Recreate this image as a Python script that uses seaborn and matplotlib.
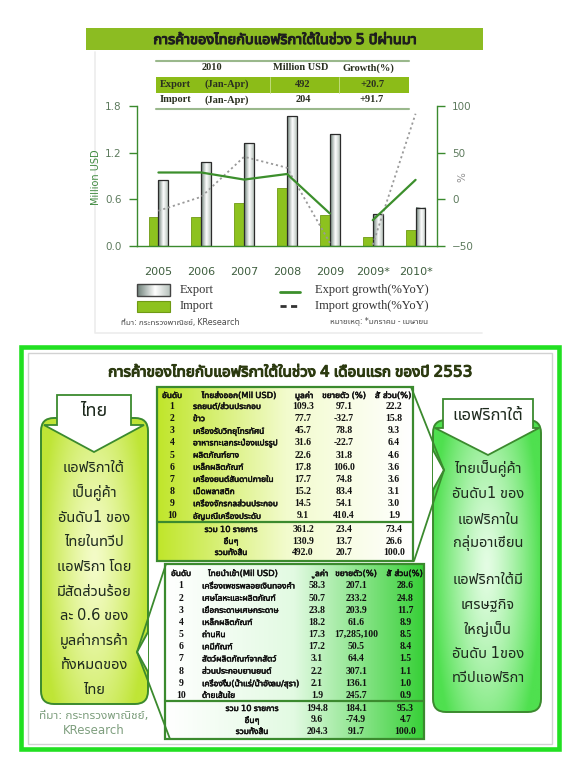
import numpy as np
import pandas as pd
import matplotlib
matplotlib.use("Agg")
import matplotlib.pyplot as plt
import seaborn as sns
from matplotlib import font_manager
from matplotlib.ft2font import FT2Font
from matplotlib.patches import Rectangle, FancyBboxPatch, Polygon
from matplotlib.colors import LinearSegmentedColormap
from matplotlib.ticker import FormatStrFormatter
import matplotlib.patheffects as pe

# ---------------- data ----------------
periods = ["2005", "2006", "2007", "2008", "2009", "2009*", "2010*"]
export_bn = [0.842, 1.078, 1.319, 1.675, 1.435, 0.408, 0.492]
import_bn = [0.365, 0.374, 0.546, 0.739, 0.395, 0.106, 0.204]
export_growth = [28.6, 28.6, 21.0, 27.0, -15.4, -22.6, 20.7]
import_growth = [-12.5, 2.5, 45.5, 33.7, -47.0, -49.0, 91.7]
growth_segment = ["annual", "annual", "annual", "annual", "annual", "janapr", "janapr"]
left_ticks = [0.0, 0.6, 1.2, 1.8]
right_ticks = [-50, 0, 50, 100]

summary_header = ["2010", "Million USD", "Growth(%)"]
summary_flow = ["Export", "Import"]
summary_period = ["(Jan-Apr)", "(Jan-Apr)"]
summary_value = ["492", "204"]
summary_growth = ["+20.7", "+91.7"]

top_title = "การค้าของไทยกับแอฟริกาใต้ในช่วง 5 ปีผ่านมา"
bottom_title = "การค้าของไทยกับแอฟริกาใต้ในช่วง 4 เดือนแรก ของปี 2553"
source_top = "ที่มา: กระทรวงพาณิชย์, KResearch"
note_top = "หมายเหตุ: *มกราคม - เมษายน"

table_header_exp = ["อันดับ", "ไทยส่งออก(Mil USD)", "มูลค่า", "ขยายตัว (%)", "สัดส่วน(%)"]
exp_items = ["รถยนต์/ส่วนประกอบ", "ข้าว", "เครื่องรับวิทยุโทรทัศน์", "อาหารทะเลกระป๋องแปรรูป",
             "ผลิตภัณฑ์ยาง", "เหล็กผลิตภัณฑ์", "เครื่องยนต์สันดาปภายใน", "เม็ดพลาสติก",
             "เครื่องจักรกลส่วนประกอบ", "อัญมณีเครื่องประดับ"]
exp_value = ["109.3", "77.7", "45.7", "31.6", "22.6", "17.8", "17.7", "15.2", "14.5", "9.1"]
exp_growth = ["97.1", "-32.7", "78.8", "-22.7", "31.8", "106.0", "74.8", "83.4", "54.1", "410.4"]
exp_share = ["22.2", "15.8", "9.3", "6.4", "4.6", "3.6", "3.6", "3.1", "3.0", "1.9"]
exp_tot_labels = ["รวม 10 รายการ", "อื่นๆ", "รวมทั้งสิ้น"]
exp_tot_value = ["361.2", "130.9", "492.0"]
exp_tot_growth = ["23.4", "13.7", "20.7"]
exp_tot_share = ["73.4", "26.6", "100.0"]

table_header_imp = ["อันดับ", "ไทยนำเข้า(Mil USD)", "มูลค่า", "ขยายตัว(%)", "สัดส่วน(%)"]
imp_items = ["เครื่องเพชรพลอยเงินทองคำ", "เศษโลหะและผลิตภัณฑ์", "เยื่อกระดาษเศษกระดาษ",
             "เหล็กผลิตภัณฑ์", "ถ่านหิน", "เคมีภัณฑ์", "สัตว์ผลิตภัณฑ์จากสัตว์",
             "ส่วนประกอบยานยนต์", "เครื่องดื่ม(น้ำแร่/น้ำอัดลม/สุรา)", "ด้ายเส้นใย"]
imp_value = ["58.3", "50.7", "23.8", "18.2", "17.3", "17.2", "3.1", "2.2", "2.1", "1.9"]
imp_growth = ["207.1", "233.2", "203.9", "61.6", "17,285,100", "50.5", "64.4", "307.1", "136.1", "245.7"]
imp_share = ["28.6", "24.8", "11.7", "8.9", "8.5", "8.4", "1.5", "1.1", "1.0", "0.9"]
imp_tot_labels = ["รวม 10 รายการ", "อื่นๆ", "รวมทั้งสิ้น"]
imp_tot_value = ["194.8", "9.6", "204.3"]
imp_tot_growth = ["184.1", "-74.9", "91.7"]
imp_tot_share = ["95.3", "4.7", "100.0"]

left_head = "ไทย"
left_lines = ["แอฟริกาใต้", "เป็นคู่ค้า", "อันดับ1 ของ", "ไทยในทวีป", "แอฟริกา โดย",
              "มีสัดส่วนร้อย", "ละ 0.6 ของ", "มูลค่าการค้า", "ทั้งหมดของ", "ไทย"]
left_source = ["ที่มา: กระทรวงพาณิชย์,", "KResearch"]
right_head = "แอฟริกาใต้"
right_lines = ["ไทยเป็นคู่ค้า", "อันดับ1 ของ", "แอฟริกาใน", "กลุ่มอาเซียน",
               "แอฟริกาใต้มี", "เศรษฐกิจ", "ใหญ่เป็น", "อันดับ 1ของ", "ทวีปแอฟริกา"]

# ---------------- fonts ----------------
sns.set_style("white")


def find_thai_family():
    found = []
    for fe in font_manager.fontManager.ttflist:
        try:
            cm = FT2Font(fe.fname).get_charmap()
        except Exception:
            continue
        if 0x0E01 in cm and 0x0E49 in cm and 0x0E32 in cm:
            found.append(fe.name)
    if not found:
        return None
    def score(n):
        s = 0
        if "Thai" in n: s -= 4
        if "Sans" in n: s -= 2
        if "Looped" in n or "Serif" in n: s += 3
        return s
    found = sorted(set(found), key=score)
    return found[0]


thai = find_thai_family()
fam = ([thai] if thai else []) + ["DejaVu Sans"]
plt.rcParams["font.family"] = fam
serif_fam = ["Liberation Serif", "DejaVu Serif"]


def bold(color, w=0.6):
    return [pe.withStroke(linewidth=w, foreground=color)]


# ---------------- figure ----------------
W, H = 580, 767
fig = plt.figure(figsize=(W / 100, H / 100), dpi=100)
fig.patch.set_facecolor("white")
bg = fig.add_axes([0, 0, 1, 1], zorder=0)
bg.set_xlim(0, W)
bg.set_ylim(H, 0)
bg.axis("off")

GREEN = "#3b8a2e"

# faint panel of top chart
bg.plot([95, 95, 482], [52, 333, 333], color="#ececec", lw=1.2)

# banner
bg.add_patch(Rectangle((86, 28), 397, 22, facecolor="#8cbc22", edgecolor="none"))
bg.text(285, 39.5, top_title, ha="center", va="center", fontsize=10.5,
        color="#1e1e1e", path_effects=bold("#1e1e1e", 0.8))

# summary table
bg.plot([155.5, 409], [61, 61], color="#9ab88c", lw=1.5)
bg.plot([155.5, 409], [109, 109], color="#9ab88c", lw=1.5)
bg.add_patch(Rectangle((155.5, 77), 253.5, 15.5, facecolor="#8cbc18", edgecolor="none"))
for xs in (270, 339):
    bg.plot([xs, xs], [77, 92.5], color="#c8e08a", lw=0.6)
hdr_x = [212, 301, 368.5]
for x, s in zip(hdr_x, summary_header):
    bg.text(x, 68, s, ha="center", va="center", fontsize=7.5, fontweight="bold",
            family=serif_fam, color="#2a3020")
for i in range(2):
    y = 84.5 + i * 15.5
    bg.text(160, y, summary_flow[i], ha="left", va="center", fontsize=7.5,
            fontweight="bold", family=serif_fam, color="#2a3020")
    bg.text(227, y, summary_period[i], ha="center", va="center", fontsize=7.5,
            fontweight="bold", family=serif_fam, color="#2a3020")
    bg.text(303, y, summary_value[i], ha="center", va="center", fontsize=7.5,
            fontweight="bold", family=serif_fam, color="#2a3020")
    bg.text(372, y, summary_growth[i], ha="center", va="center", fontsize=7.5,
            fontweight="bold", family=serif_fam, color="#2a3020")

# ---------------- chart ----------------
x0, x1, ytop, ybot = 137, 437, 106, 245.7
ax = fig.add_axes([x0 / W, 1 - ybot / H, (x1 - x0) / W, (ybot - ytop) / H], zorder=2)
ax.patch.set_alpha(0)

df = pd.DataFrame({
    "period": periods * 2,
    "flow": ["Import"] * len(periods) + ["Export"] * len(periods),
    "value": import_bn + export_bn,
})
IMP_C = "#8dc21f"
sns.barplot(data=df, x="period", y="value", hue="flow", hue_order=["Import", "Export"],
            palette={"Import": IMP_C, "Export": "#eef2ee"}, width=0.46, ax=ax,
            legend=False, saturation=1, order=periods)

exp_cmap = LinearSegmentedColormap.from_list(
    "exp", [(0, "#6d8078"), (0.55, "#ffffff"), (1, "#b9c4be")])
grad = np.linspace(0, 1, 64).reshape(1, -1)
for bar in ax.containers[0]:
    bar.set_edgecolor("#6f9a14")
    bar.set_linewidth(0.6)
for bar in ax.containers[1]:
    bx, bw, bh = bar.get_x(), bar.get_width(), bar.get_height()
    ax.imshow(grad, extent=[bx, bx + bw, 0, bh], aspect="auto", cmap=exp_cmap,
              zorder=1.5, interpolation="bilinear")
    bar.set_facecolor("none")
    bar.set_edgecolor("#2b2b2b")
    bar.set_linewidth(0.9)
    bar.set_zorder(2)

ax.set_xlim(-0.5, len(periods) - 0.5)
ax.set_ylim(0, 1.8)
ax.set_yticks(left_ticks)
ax.yaxis.set_major_formatter(FormatStrFormatter("%.1f"))
ax.set_xlabel("")
ax.set_ylabel("")
ax.set_xticks(range(len(periods)))
ax.set_xticklabels(periods)
ax.set_xticks(np.arange(-0.5, len(periods), 1.0), minor=True)
ax.tick_params(axis="x", which="major", length=0, pad=15, labelsize=8, labelcolor="#3f5f3f")
ax.tick_params(axis="x", which="minor", length=5, width=1, color=GREEN, direction="out")
ax.tick_params(axis="y", length=6, width=1, color=GREEN, direction="out", labelsize=7.5,
               labelcolor="#5d7a5d", pad=5)
for s in ("top", "right"):
    ax.spines[s].set_visible(False)
for s in ("left", "bottom"):
    ax.spines[s].set_color(GREEN)
    ax.spines[s].set_linewidth(1)

ax2 = ax.twinx()
ax2.patch.set_alpha(0)
gdf = pd.DataFrame({
    "pos": list(range(len(periods))),
    "exp": export_growth,
    "imp": import_growth,
    "seg": growth_segment,
})
sns.lineplot(data=gdf, x="pos", y="imp", units="seg", estimator=None, ax=ax2,
             color="#9a9a9a", lw=1.3, linestyle=(0, (1.2, 1.6)), legend=False)
sns.lineplot(data=gdf, x="pos", y="exp", units="seg", estimator=None, ax=ax2,
             color="#3c8f2c", lw=1.6, legend=False)
ax2.set_ylim(-50, 100)
ax2.set_yticks(right_ticks)
ax2.set_xlim(-0.5, len(periods) - 0.5)
ax2.set_ylabel("")
ax2.set_xlabel("")
ax2.tick_params(axis="y", length=6, width=1, color=GREEN, direction="out", labelsize=7.5,
                labelcolor="#5d7a5d", pad=5)
for s in ("top", "left", "bottom"):
    ax2.spines[s].set_visible(False)
ax2.spines["right"].set_color(GREEN)
ax2.spines["right"].set_linewidth(1)

bg.text(96, 177, "Million USD", rotation=90, ha="center", va="center",
        fontsize=7, color="#3f8a3f", family=["DejaVu Sans"])
bg.text(462, 177, "%", rotation=90, ha="center", va="center", fontsize=7.5,
        color="#909090", family=["DejaVu Sans"])

# legend
bg.imshow(grad, extent=[137, 170, 296, 284], aspect="auto", cmap=exp_cmap, zorder=1)
bg.add_patch(Rectangle((137, 284), 33, 12, facecolor="none", edgecolor="#444444", lw=1, zorder=2))
bg.add_patch(Rectangle((137, 301), 33, 11, facecolor=IMP_C, edgecolor="#6f9a14", lw=0.8, zorder=2))
bg.text(180, 290, "Export", ha="left", va="center", fontsize=9, family=serif_fam, color="#333333")
bg.text(180, 306, "Import", ha="left", va="center", fontsize=9, family=serif_fam, color="#333333")
bg.plot([280, 300], [292, 292], color="#3c8f2c", lw=2)
bg.plot([280, 300], [306, 306], color="#333333", lw=2, linestyle=(0, (2.2, 1.6)))
bg.text(315, 290, "Export growth(%YoY)", ha="left", va="center", fontsize=9,
        family=serif_fam, color="#333333")
bg.text(315, 306, "Import growth(%YoY)", ha="left", va="center", fontsize=9,
        family=serif_fam, color="#333333")
bg.text(121, 322, source_top, ha="left", va="center", fontsize=5.8, color="#4a4a4a")
bg.text(330, 322, note_top, ha="left", va="center", fontsize=5.8, color="#4a4a4a")

# ---------------- bottom infographic ----------------
bg.add_patch(Rectangle((21, 347), 538, 402, facecolor="none", edgecolor="#22e022", lw=3.3, zorder=1))
bg.add_patch(Rectangle((28, 352.5), 524, 391, facecolor="none", edgecolor="#d2d2d2", lw=1, zorder=1))
bg.text(290, 372, bottom_title, ha="center", va="center", fontsize=11,
        color="#2c3a10", path_effects=bold("#2c3a10", 0.8))


def grad_img(c_left, c_mid, c_right, mid=0.5):
    cm = LinearSegmentedColormap.from_list("g", [(0, c_left), (mid, c_mid), (1, c_right)])
    return cm(np.linspace(0, 1, 128).reshape(1, -1))


def radial_img(c_center, c_edge, ny=120, nx=60):
    u = np.linspace(-1, 1, nx)[None, :]
    v = np.linspace(-1, 1, ny)[:, None]
    t = np.clip(np.sqrt(0.95 * u ** 2 + 0.45 * v ** 2), 0, 1) ** 1.3
    cc = np.array(matplotlib.colors.to_rgb(c_center))
    ce = np.array(matplotlib.colors.to_rgb(c_edge))
    return cc[None, None, :] * (1 - t[..., None]) + ce[None, None, :] * t[..., None]


def callout(xa, xb, ya, yb, c_center, c_edge, notch):
    box = FancyBboxPatch((xa, ya), xb - xa, yb - ya, boxstyle="round,pad=0,rounding_size=13",
                         facecolor="none", edgecolor=GREEN, lw=1.4, zorder=3)
    bg.add_patch(box)
    im = bg.imshow(radial_img(c_center, c_edge), extent=[xa, xb, yb, ya], aspect="auto",
                   zorder=2, interpolation="bilinear")
    im.set_clip_path(box)
    nx_edge, ntip, ny = notch
    bg.add_patch(Polygon([(nx_edge, ny - 20), (ntip, ny), (nx_edge, ny + 20)], closed=True,
                         facecolor="white", edgecolor="none", zorder=3.5))
    bg.plot([nx_edge, ntip, nx_edge], [ny - 20, ny, ny + 20], color=GREEN, lw=1.4, zorder=3.6)


def header_arrow(xa, xb, ya, yb, wl, wr, tipx, tipy, text, fs):
    pts = [(xa, ya), (xb, ya), (xb, yb), (wr, yb), (tipx, tipy), (wl, yb), (xa, yb)]
    bg.add_patch(Polygon(pts, closed=True, facecolor="white", edgecolor=GREEN, lw=1.3, zorder=4))
    bg.text((xa + xb) / 2, (ya + yb) / 2 + 1, text, ha="center", va="center", fontsize=fs,
            color="#1e2a1e", zorder=5)


# left callout
callout(41, 148, 418, 704, "#f4fcc8", "#bfe536", (148, 137, 652))
header_arrow(57, 131, 395, 425, 44, 144, 94, 452, left_head, 13)
for i, s in enumerate(left_lines):
    bg.text(94, 468 + i * 24.6, s, ha="center", va="center", fontsize=10.5, color="#1e2a1e", zorder=5)
bg.text(94, 715, left_source[0], ha="center", va="center", fontsize=8.5, color="#7f9f7f")
bg.text(94, 731, left_source[1], ha="center", va="center", fontsize=8.5, color="#7f9f7f")

# right callout
callout(433, 541, 420, 712, "#e4fde4", "#4fe04f", (433, 444, 470))
header_arrow(443, 533, 399, 428, 435, 539, 488, 455, right_head, 12)
right_y = [469, 494, 519, 543, 580, 605, 629, 654, 678]
for y, s in zip(right_y, right_lines):
    bg.text(488, y, s, ha="center", va="center", fontsize=10.5, color="#1e2a1e", zorder=5)

TXT = "#111111"
TFS = 6.0


def ttext(x, y, s, ha="center", num=False):
    if num:
        bg.text(x, y, s, ha=ha, va="center", fontsize=7.0, color=TXT,
                fontweight="bold", family=serif_fam, zorder=5)
    else:
        bg.text(x, y, s, ha=ha, va="center", fontsize=TFS, color=TXT,
                zorder=5, path_effects=bold(TXT, 0.35))


def draw_table(xa, xb, ya, yb, colors, header, cols_x, name_x, rows, tots, sep_y,
               header_y, row0_y, dy, tot_x, tot_y):
    bg.imshow(grad_img(*colors), extent=[xa, xb, yb, ya], aspect="auto", zorder=2,
              interpolation="bilinear")
    bg.add_patch(Rectangle((xa, ya), xb - xa, yb - ya, facecolor="none", edgecolor=GREEN,
                           lw=1.6, zorder=3))
    bg.plot([xa, xb], [sep_y, sep_y], color=GREEN, lw=1.6, zorder=3)
    hx = [cols_x[0], name_x[1], cols_x[1] + 1, cols_x[2], cols_x[3]]
    for x, s in zip(hx, header):
        ttext(x, header_y, s)
    items, vals, grs, shs = rows
    for i in range(len(items)):
        y = row0_y + i * dy
        ttext(cols_x[0], y, str(i + 1), num=True)
        ttext(name_x[0], y, items[i], ha="left")
        for x, s in zip(cols_x[1:], (vals[i], grs[i], shs[i])):
            ttext(x, y, s, num=True)
    tl, tv, tg, ts = tots
    for j in range(3):
        y = tot_y[j]
        ttext(tot_x, y, tl[j])
        for x, s in zip(cols_x[1:], (tv[j], tg[j], ts[j])):
            ttext(x, y, s, num=True)


draw_table(157, 413, 387, 561, ("#c0e62a", "#f2fbcc", "#ffffff"),
           table_header_exp, [172, 303, 344, 394], (193, 239),
           (exp_items, exp_value, exp_growth, exp_share),
           (exp_tot_labels, exp_tot_value, exp_tot_growth, exp_tot_share),
           521.5, 395.5, 406.5, 12.15, 231, [529.5, 541, 552.5])

draw_table(165, 424, 564, 739, ("#ffffff", "#e2fae2", "#38d038"),
           table_header_imp, [181, 317, 356, 405.5], (202, 243),
           (imp_items, imp_value, imp_growth, imp_share),
           (imp_tot_labels, imp_tot_value, imp_tot_growth, imp_tot_share),
           701, 573.5, 586, 12.15, 252, [708.5, 720, 731.5])

# connectors
bg.plot([411, 444, 414], [387, 470, 561], color=GREEN, lw=1.3, zorder=3.7)
bg.plot([166, 137, 170], [564, 652, 739], color=GREEN, lw=1.3, zorder=3.7)

fig.savefig("out.png", dpi=100, facecolor="white")
